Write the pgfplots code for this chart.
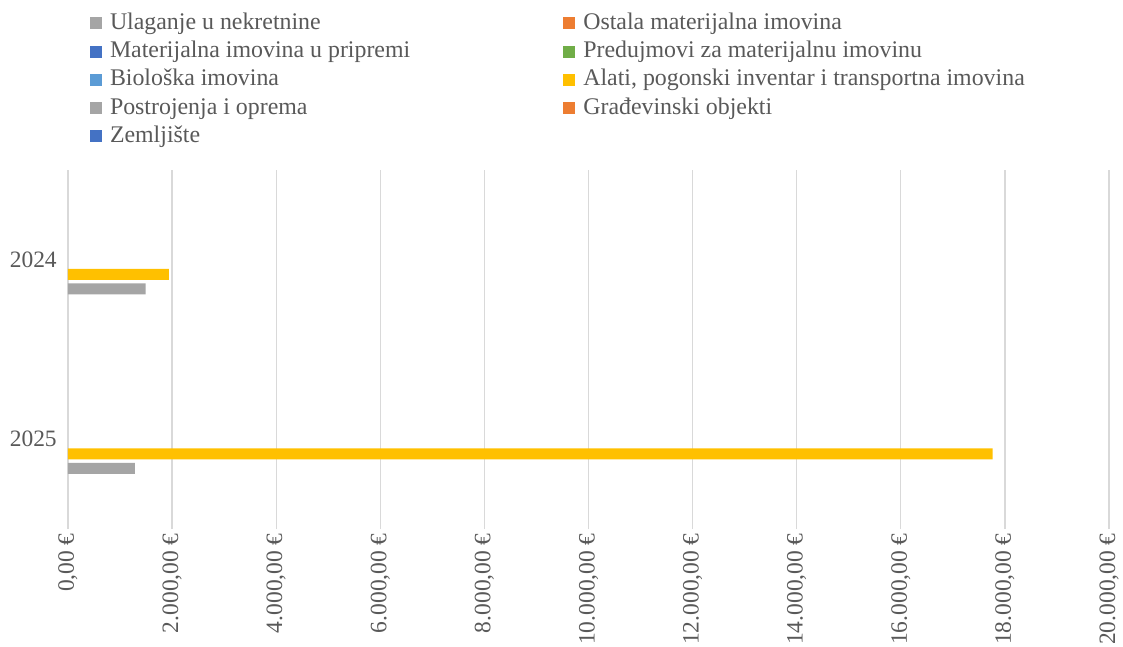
\documentclass[border=0pt]{standalone}
\usepackage{fontspec}
\setmainfont{Liberation Serif}
\usepackage{pgfplots}
\pgfplotsset{compat=1.18}
\definecolor{txt}{HTML}{595959}
\definecolor{cgray}{HTML}{A5A5A5}
\definecolor{cyellow}{HTML}{FFC000}
\definecolor{cblue}{HTML}{4472C4}
\definecolor{corange}{HTML}{ED7D31}
\definecolor{cgreen}{HTML}{70AD47}
\definecolor{clblue}{HTML}{5B9BD5}
\definecolor{cgrid}{HTML}{D9D9D9}
\newcommand{\colA}[1]{\makebox[340pt][l]{#1}}
\begin{document}
\begin{tikzpicture}
\useasboundingbox (-51pt,-87.75pt) rectangle (791.25pt,396.75pt);
\begin{axis}[
  at={(0pt,0pt)}, anchor=south west,
  scale only axis, width=780.75pt, height=269.25pt,
  xbar, bar width=8.25pt,
  xmin=0, xmax=20000, ymin=-0.5, ymax=1.5,
  scaled x ticks=false,
  xtick={0,2000,4000,6000,8000,10000,12000,14000,16000,18000,20000},
  xticklabels={{0,00 €},{2.000,00 €},{4.000,00 €},{6.000,00 €},{8.000,00 €},{10.000,00 €},{12.000,00 €},{14.000,00 €},{16.000,00 €},{18.000,00 €},{20.000,00 €}},
  ytick={0,1}, yticklabels={2025,2024},
  xmajorgrids, grid style={cgrid, line width=1pt},
  axis line style={draw=none},
  major tick length=0pt,
  tick label style={font=\fontsize{17.6}{20}\selectfont, text=txt},
  xticklabel style={rotate=90, anchor=east, inner sep=0pt},
  yticklabel style={anchor=east, inner sep=0pt},
  xticklabel shift=3pt, yticklabel shift=8.25pt,
  legend columns=2,
  legend cell align=left,
  legend style={at={(axis description cs:0,1)}, anchor=north west,
    xshift=16.5pt, yshift=119pt, draw=none, fill=none, inner sep=0pt, outer sep=0pt,
    font=\fontsize{17.9}{20}\selectfont, text=txt,
    /tikz/column sep=0pt, /tikz/row sep=3.2pt,
    nodes={inner sep=0pt, text height=13.5pt, text depth=4.5pt}},
  legend image code/.code={\fill[#1] (0pt,-4.5pt) rectangle (9pt,4.5pt); \path (15pt,0pt);},
  zero/.style={draw=none, fill opacity=0, legend image post style={fill opacity=1}},
]
% order = legend order (row-wise); bar shift gives Excel's stacking in the cluster
\addplot[fill=cgray, zero, bar shift=43.5pt] coordinates {(0,1) (0,0)};
\addlegendentry{\colA{Ulaganje u nekretnine}}
\addplot[fill=corange, zero, bar shift=32.625pt] coordinates {(0,1) (0,0)};
\addlegendentry{Ostala materijalna imovina}
\addplot[fill=cblue, zero, bar shift=21.75pt] coordinates {(0,1) (0,0)};
\addlegendentry{\colA{Materijalna imovina u pripremi}}
\addplot[fill=cgreen, zero, bar shift=10.875pt] coordinates {(0,1) (0,0)};
\addlegendentry{Predujmovi za materijalnu imovinu}
\addplot[fill=clblue, zero, bar shift=0pt] coordinates {(0,1) (0,0)};
\addlegendentry{\colA{Biološka imovina}}
\addplot[fill=cyellow, draw=none, bar shift=-10.875pt] coordinates {(1940,1) (17766,0)};
\addlegendentry{Alati, pogonski inventar i transportna imovina}
\addplot[fill=cgray, draw=none, bar shift=-21.75pt] coordinates {(1492,1) (1287,0)};
\addlegendentry{\colA{Postrojenja i oprema}}
\addplot[fill=corange, zero, bar shift=-32.625pt] coordinates {(0,1) (0,0)};
\addlegendentry{Građevinski objekti}
\addplot[fill=cblue, zero, bar shift=-43.5pt] coordinates {(0,1) (0,0)};
\addlegendentry{\colA{Zemljište}}
\end{axis}
\end{tikzpicture}
\end{document}
